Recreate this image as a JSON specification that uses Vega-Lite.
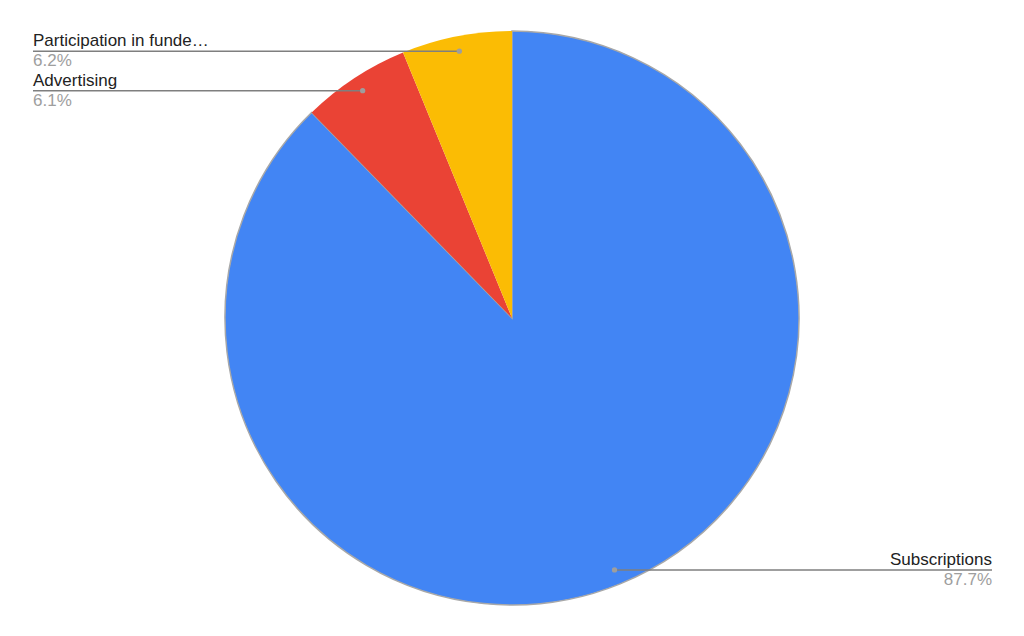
{
  "$schema": "https://vega.github.io/schema/vega-lite/v6.json",
  "autosize": {"type": "fit", "contains": "padding"},
  "width": 1024,
  "height": 636,
  "padding": 0,
  "background": "#ffffff",
  "config": {"view": {"stroke": null}, "font": "Liberation Sans"},
  "data": {
    "values": [
      {"source": "Subscriptions", "share": 87.7},
      {"source": "Advertising", "share": 6.1},
      {"source": "Participation in funde…", "share": 6.2}
    ]
  },
  "transform": [
    {"calculate": "indexof(['Subscriptions', 'Advertising', 'Participation in funde…'], datum.source)", "as": "rank"},
    {"window": [{"op": "sum", "field": "share", "as": "cum"}], "sort": [{"field": "rank"}], "frame": [null, 0]},
    {"joinaggregate": [{"op": "sum", "field": "share", "as": "total"}]},
    {"calculate": "2 * PI * (datum.cum - datum.share / 2) / datum.total", "as": "mid"},
    {"calculate": "272 * sin(datum.mid)", "as": "px"},
    {"calculate": "272 * cos(datum.mid)", "as": "py"},
    {"calculate": "datum.px < 0 ? -479 : 480", "as": "edge"},
    {"calculate": "format(datum.share, '.1f') + '%'", "as": "pct"}
  ],
  "layer": [
    {
      "mark": {"type": "arc", "outerRadius": 287},
      "encoding": {
        "theta": {"field": "share", "type": "quantitative", "stack": true},
        "order": {"field": "rank", "type": "quantitative"},
        "color": {
          "field": "source",
          "type": "nominal",
          "scale": {
            "domain": ["Subscriptions", "Advertising", "Participation in funde…"],
            "range": ["#4285f4", "#ea4335", "#fbbc04"]
          },
          "legend": null
        },
        "stroke": {"value": "#a8a8a8"},
        "strokeWidth": {
          "condition": {"test": "datum.source === 'Subscriptions'", "value": 1.5},
          "value": 0
        }
      }
    },
    {
      "mark": {"type": "rule", "color": "#7f7f7f", "strokeWidth": 1.5},
      "encoding": {
        "x": {"field": "px", "type": "quantitative", "scale": {"domain": [-512, 512], "nice": false, "zero": false}, "axis": null},
        "x2": {"field": "edge"},
        "y": {"field": "py", "type": "quantitative", "scale": {"domain": [-318, 318], "nice": false, "zero": false}, "axis": null}
      }
    },
    {
      "mark": {"type": "point", "filled": true, "color": "#9e9e9e", "size": 28, "opacity": 1},
      "encoding": {
        "x": {"field": "px", "type": "quantitative"},
        "y": {"field": "py", "type": "quantitative"}
      }
    },
    {
      "transform": [{"filter": "datum.px < 0"}],
      "layer": [
        {
          "mark": {"type": "text", "align": "left", "baseline": "alphabetic", "dy": -5, "fontSize": 17, "color": "#222222"},
          "encoding": {
            "x": {"field": "edge", "type": "quantitative"},
            "y": {"field": "py", "type": "quantitative"},
            "text": {"field": "source"}
          }
        },
        {
          "mark": {"type": "text", "align": "left", "baseline": "top", "dy": 2, "fontSize": 17, "color": "#9e9e9e"},
          "encoding": {
            "x": {"field": "edge", "type": "quantitative"},
            "y": {"field": "py", "type": "quantitative"},
            "text": {"field": "pct"}
          }
        }
      ]
    },
    {
      "transform": [{"filter": "datum.px >= 0"}],
      "layer": [
        {
          "mark": {"type": "text", "align": "right", "baseline": "alphabetic", "dy": -5, "fontSize": 17, "color": "#222222"},
          "encoding": {
            "x": {"field": "edge", "type": "quantitative"},
            "y": {"field": "py", "type": "quantitative"},
            "text": {"field": "source"}
          }
        },
        {
          "mark": {"type": "text", "align": "right", "baseline": "top", "dy": 2, "fontSize": 17, "color": "#9e9e9e"},
          "encoding": {
            "x": {"field": "edge", "type": "quantitative"},
            "y": {"field": "py", "type": "quantitative"},
            "text": {"field": "pct"}
          }
        }
      ]
    }
  ]
}
